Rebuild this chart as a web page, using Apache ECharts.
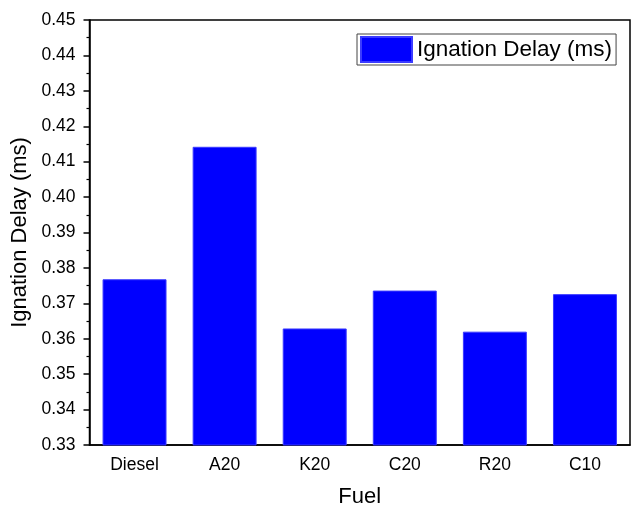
<!DOCTYPE html>
<html>
<head>
<meta charset="utf-8">
<script src="https://cdn.jsdelivr.net/npm/echarts@6/dist/echarts.min.js"></script>
<style>
  html, body { margin: 0; padding: 0; background: #fff; }
  #chart { width: 633px; height: 509px; }
</style>
</head>
<body>
<div id="chart"></div>
<script>
// Fuel blends on the x axis
const fuels = ['Diesel', 'A20', 'K20', 'C20', 'R20', 'C10'];
// Ignition delay per fuel, ms
const ignitionDelay = [0.3768, 0.4142, 0.3629, 0.3736, 0.3620, 0.3726];
// Value axis range and step
const yMin = 0.33;
const yMax = 0.45;
const yStep = 0.01;

const FONT = '"Liberation Sans", Arial, sans-serif';
const chart = echarts.init(document.getElementById('chart'), null, { renderer: 'canvas' });

chart.setOption({
  animation: false,
  backgroundColor: '#ffffff',
  textStyle: { fontFamily: FONT, color: '#000' },
  grid: {
    left: 89.5, right: 3, top: 20, bottom: 64,
    outerBoundsMode: 'none',
    containLabel: false,
    show: true, borderColor: '#000', borderWidth: 1.5, backgroundColor: 'transparent'
  },
  legend: {
    left: 357, top: 34,
    orient: 'horizontal',
    data: ['Ignation Delay (ms)'],
    icon: 'rect',
    itemWidth: 51, itemHeight: 25,
    padding: [2, 4, 2, 3],
    borderColor: '#444', borderWidth: 1,
    textStyle: { fontFamily: FONT, fontSize: 22.5, color: '#000' }
  },
  xAxis: [
    {
      type: 'category',
      data: fuels,
      name: 'Fuel',
      nameLocation: 'middle',
      nameGap: 41,
      nameTextStyle: { fontFamily: FONT, fontSize: 22, color: '#000' },
      axisLine: { lineStyle: { color: '#000', width: 1.5 } },
      axisTick: { alignWithLabel: true, length: 6, lineStyle: { color: '#000', width: 1.5 } },
      axisLabel: { margin: 11, fontFamily: FONT, fontSize: 17.5, color: '#000' },
      splitLine: { show: false }
    },
    {
      // short ticks on the category boundaries
      type: 'category',
      data: fuels,
      position: 'bottom',
      axisLine: { show: false },
      axisTick: { length: 4, lineStyle: { color: '#000', width: 1.5 } },
      axisLabel: { show: false },
      splitLine: { show: false }
    }
  ],
  yAxis: {
    type: 'value',
    min: yMin, max: yMax, interval: yStep,
    name: 'Ignation Delay (ms)',
    nameLocation: 'middle',
    nameGap: 51,
    nameTextStyle: { fontFamily: FONT, fontSize: 22, color: '#000' },
    axisLine: { show: true, lineStyle: { color: '#000', width: 1.5 } },
    axisTick: { show: true, length: 6, lineStyle: { color: '#000', width: 1.5 } },
    minorTick: { show: true, splitNumber: 2, length: 3, lineStyle: { color: '#000', width: 1.2 } },
    axisLabel: {
      margin: 14, fontFamily: FONT, fontSize: 17.5, color: '#000',
      formatter: v => v.toFixed(2)
    },
    splitLine: { show: false }
  },
  series: [{
    name: 'Ignation Delay (ms)',
    type: 'bar',
    data: ignitionDelay,
    barCategoryGap: '29%',
    itemStyle: { color: '#0000ff', borderColor: '#3b3bff', borderWidth: 1 }
  }]
});
</script>
</body>
</html>
